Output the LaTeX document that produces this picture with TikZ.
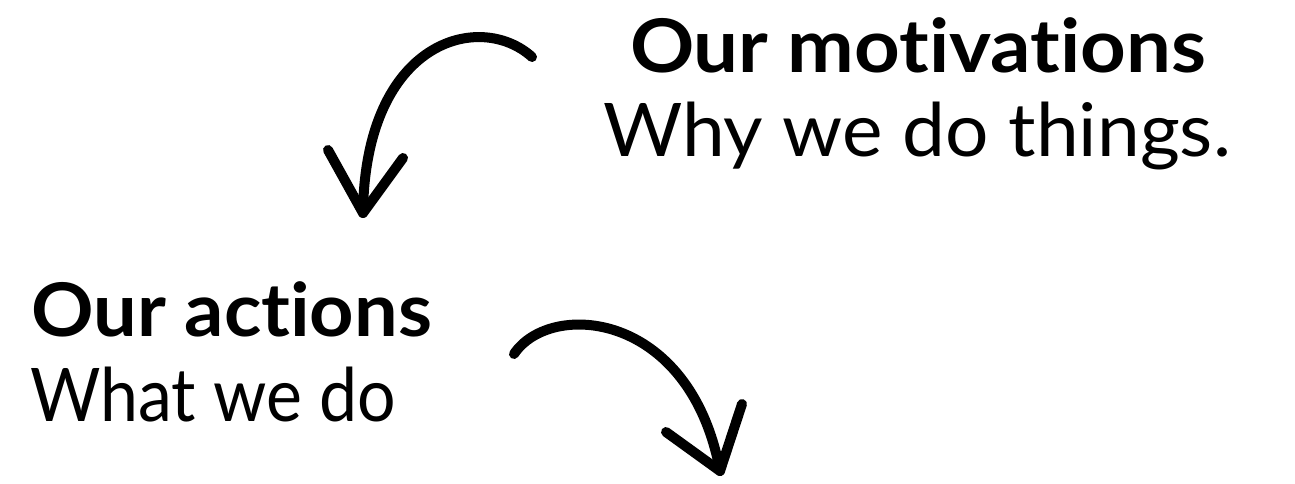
\documentclass[tikz,border=0pt]{standalone}
\usepackage{fontspec}
\usepackage{graphicx}
\setmainfont{Lato}[Ligatures=NoCommon]
\newlength\fitlen
\newcommand\fitto[2]{\settowidth{\fitlen}{#2}\pgfmathsetmacro\fitsx{#1/\fitlen}\scalebox{\fitsx}[1]{#2}}
\begin{document}
\begin{tikzpicture}[x=1pt,y=-1pt,
  title/.style={font=\fontsize{74}{80}\selectfont\bfseries, inner sep=0pt},
  sub/.style={font=\fontsize{74}{80}\selectfont, inner sep=0pt},
  sketch/.style={line width=10pt, line cap=round, line join=round}]
\useasboundingbox (0,0) rectangle (1295,484);
% texts
\node[title, anchor=base] (mot) at (918,73) {\fitto{576}{Our motivations}};
\node[sub, anchor=base] (why) at (917,157) {\fitto{628}{Why we do things.}};
\node[title, anchor=base west] (act) at (31,336) {\fitto{401}{Our actions}};
\node[sub, anchor=base west] (what) at (30,421) {\fitto{366}{What we do}};
% arrow 1
\coordinate (a1s) at (532,57);
\coordinate (a1t) at (363,213);
\coordinate (a1l) at (328,150);
\coordinate (a1r) at (403,158);
\draw[sketch] (a1s) .. controls (480,10) and (365,40) .. (a1t);
\draw[sketch] (a1l) -- (a1t) -- (a1r);
% arrow 2
\coordinate (a2s) at (514,354);
\coordinate (a2t) at (720,471);
\coordinate (a2l) at (666,432);
\coordinate (a2r) at (742,404);
\draw[sketch] (a2s) .. controls (550,300) and (690,310) .. (a2t);
\draw[sketch] (a2l) -- (a2t) -- (a2r);
\end{tikzpicture}
\end{document}
